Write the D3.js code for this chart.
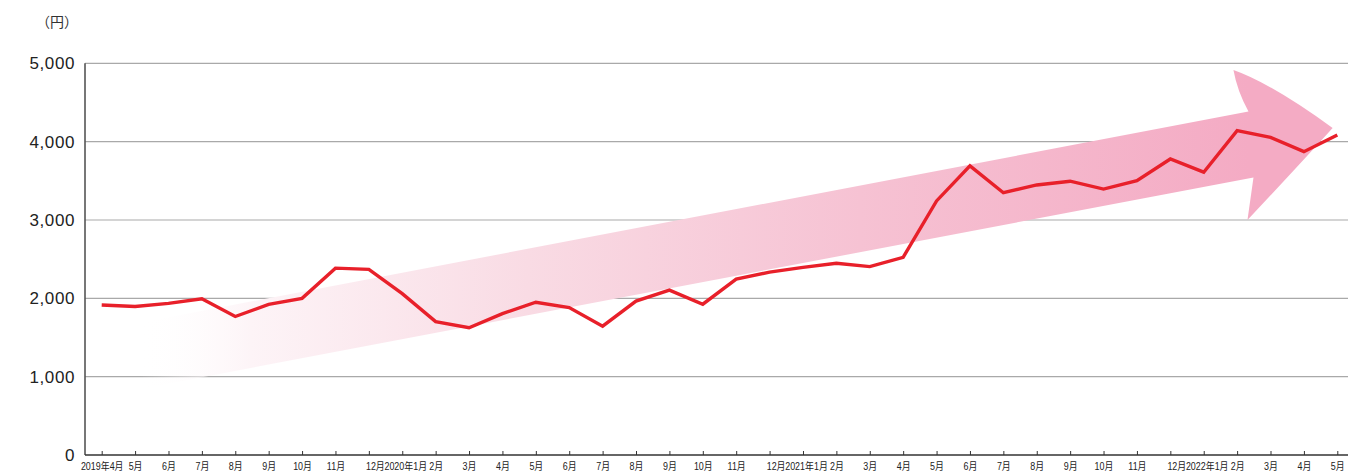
<!DOCTYPE html>
<html lang="ja">
<head>
<meta charset="utf-8">
<script src="https://cdn.jsdelivr.net/npm/d3@7"></script>
<style>
  html, body { margin: 0; padding: 0; background: #fff; }
  svg { display: block; }
</style>
</head>
<body>
<svg id="chart" width="1348" height="471"></svg>
<script>
// Monthly values (円), April 2019 – May 2022
const months = [
  "2019年4月", "5月", "6月", "7月", "8月", "9月", "10月", "11月", "12月",
  "2020年1月", "2月", "3月", "4月", "5月", "6月", "7月", "8月", "9月", "10月", "11月", "12月",
  "2021年1月", "2月", "3月", "4月", "5月", "6月", "7月", "8月", "9月", "10月", "11月", "12月",
  "2022年1月", "2月", "3月", "4月", "5月"
];
const values = [
  1915, 1895, 1935, 1995, 1768, 1922, 2000, 2385, 2370,
  2060, 1702, 1625, 1805, 1950, 1882, 1645, 1965, 2105, 1925, 2245, 2335,
  2395, 2447, 2405, 2524, 3243, 3690, 3348, 3447, 3495, 3395, 3502, 3779,
  3610, 4140, 4055, 3872, 4085
];
const yTicks = [0, 1000, 2000, 3000, 4000, 5000];
const unitLabel = "（円）";

// Trend arrow outline, in (month index, 円) coordinates
const arrowShaftStart = [[1.15, 1689], [1.15, 843]];
const arrowTop = [
  [34.34, 4384],               // shaft top end
  [33.89, 4915],               // head upper barb
  [36.86, 4175],               // head tip
  [34.31, 3000],               // head lower barb
  [34.49, 3543]                // shaft bottom end
];
const arrowCurves = [
  [34.0, 4650],                // control: back edge of upper barb
  [35.00, 4750],               // control: upper outer edge
  [35.85, 3700]                // control: lower outer edge
];

const svg = d3.select("#chart");
const W = 1348, H = 471;
const margin = { left: 85, right: 0, top: 63.3, bottom: 16 };

const x = d3.scalePoint()
  .domain(d3.range(months.length))
  .range([margin.left, 1354])
  .padding(0.5);
const xi = d3.scaleLinear()
  .domain([0, months.length - 1])
  .range([x(0), x(months.length - 1)]);
const y = d3.scaleLinear()
  .domain([0, 5000])
  .range([H - margin.bottom, margin.top]);

// Gridlines
svg.append("g")
  .selectAll("line")
  .data(yTicks.filter(d => d > 0))
  .join("line")
  .attr("x1", margin.left).attr("x2", W)
  .attr("y1", d => y(d)).attr("y2", d => y(d))
  .attr("stroke", "#a9a9a9")
  .attr("stroke-width", 1.2);

// Gradient for the trend arrow
const defs = svg.append("defs");
const grad = defs.append("linearGradient")
  .attr("id", "arrowFill")
  .attr("gradientUnits", "userSpaceOnUse")
  .attr("x1", xi(arrowShaftStart[0][0])).attr("y1", 0)
  .attr("x2", xi(arrowTop[0][0])).attr("y2", 0);
[
  [0, "#ffffff", 0],
  [0.1, "#fdf4f7", 1],
  [0.35, "#f9dbe4", 1],
  [0.65, "#f6c2d3", 1],
  [1, "#f4abc4", 1]
].forEach(([o, c, a]) => grad.append("stop")
  .attr("offset", o).attr("stop-color", c).attr("stop-opacity", a));

const P = p => [xi(p[0]), y(p[1])];
const path = d3.path();
let p = P(arrowShaftStart[0]);
path.moveTo(p[0], p[1]);
p = P(arrowTop[0]); path.lineTo(p[0], p[1]);
let c = P(arrowCurves[0]); p = P(arrowTop[1]); path.quadraticCurveTo(c[0], c[1], p[0], p[1]);
c = P(arrowCurves[1]); p = P(arrowTop[2]); path.quadraticCurveTo(c[0], c[1], p[0], p[1]);
c = P(arrowCurves[2]); p = P(arrowTop[3]); path.quadraticCurveTo(c[0], c[1], p[0], p[1]);
p = P(arrowTop[4]); path.lineTo(p[0], p[1]);
p = P(arrowShaftStart[1]); path.lineTo(p[0], p[1]);
path.closePath();

svg.append("path")
  .attr("d", path.toString())
  .attr("fill", "url(#arrowFill)");

// Axes
const yAxisG = svg.append("g");
yAxisG.append("line")
  .attr("x1", margin.left).attr("x2", margin.left)
  .attr("y1", y(5000)).attr("y2", y(0))
  .attr("stroke", "#555").attr("stroke-width", 1.6);
yAxisG.selectAll("text")
  .data(yTicks)
  .join("text")
  .attr("x", 75)
  .attr("y", d => y(d))
  .attr("dy", "0.36em")
  .attr("text-anchor", "end")
  .attr("font-family", "'Liberation Sans', Arial, sans-serif")
  .attr("font-size", 17)
  .attr("letter-spacing", 0.6)
  .attr("fill", "#222")
  .text(d => d3.format(",")(d));

svg.append("text")
  .attr("x", 57).attr("y", 27)
  .attr("text-anchor", "middle")
  .attr("font-family", "'Noto Sans CJK JP', sans-serif")
  .attr("font-size", 14)
  .attr("fill", "#333")
  .text(unitLabel);

const xAxis = d3.axisBottom(x)
  .tickSize(-4)
  .tickSizeOuter(0)
  .tickFormat(i => months[i]);
const xAxisG = svg.append("g")
  .attr("transform", `translate(0,${y(0)})`)
  .call(xAxis);
xAxisG.select(".domain")
  .attr("d", `M${margin.left},0H${W}`)
  .attr("stroke", "#333").attr("stroke-width", 1.6);
xAxisG.selectAll(".tick line").attr("stroke", "#333").attr("stroke-width", 1);
xAxisG.selectAll(".tick text")
  .attr("font-family", "'Liberation Sans', 'Noto Sans CJK JP', sans-serif")
  .attr("font-size", 10.5)
  .attr("fill", "#222")
  .attr("y", 0)
  .attr("dy", 0)
  .attr("transform", (i) => {
    // crowded year-end labels are nudged right
    const dx = months[i] === "12月" ? 6 : (months[i].includes("年") && i > 0 ? 3 : 0);
    return `translate(${dx},15) scale(0.85,1)`;
  });

// Price line
const line = d3.line()
  .x((d, i) => x(i))
  .y(d => y(d));
svg.append("path")
  .datum(values)
  .attr("d", line)
  .attr("fill", "none")
  .attr("stroke", "#e8202a")
  .attr("stroke-width", 3.4)
  .attr("stroke-linejoin", "miter");
</script>
</body>
</html>
